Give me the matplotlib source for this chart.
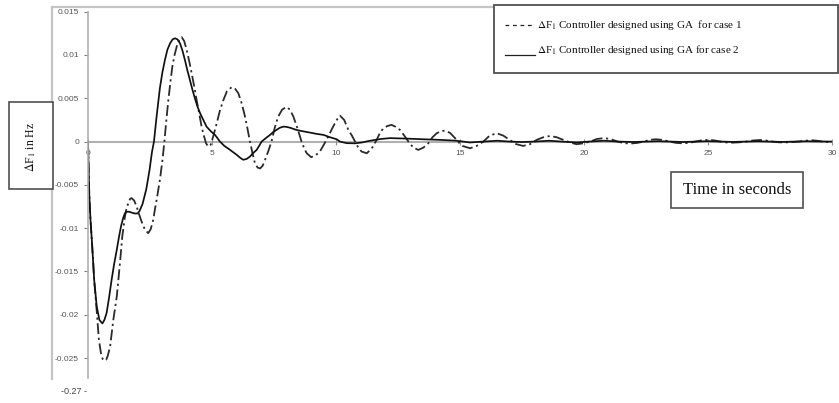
import matplotlib
matplotlib.use("Agg")
import matplotlib.pyplot as plt
from matplotlib.patches import Rectangle
from matplotlib.lines import Line2D

plt.rcParams['mathtext.fontset'] = 'stix'

# Case 1: controller designed using GA (dash-dot curve)
t_case1 = [0.0, 0.05, 0.1, 0.17, 0.25, 0.35, 0.44, 0.52, 0.59, 0.66, 0.73, 0.79, 0.89, 1.02,
           1.16, 1.29, 1.38, 1.49, 1.56, 1.63, 1.7, 1.76, 1.86, 1.96, 2.06, 2.16, 2.3, 2.43,
           2.53, 2.63, 2.7, 2.77, 2.84, 2.9, 3.0, 3.08, 3.16, 3.24, 3.32, 3.4, 3.49, 3.58,
           3.68, 3.78, 3.88, 3.98, 4.08, 4.18, 4.28, 4.38, 4.48, 4.58, 4.68, 4.76, 4.85, 4.94,
           5.05, 5.19, 5.32, 5.46, 5.6, 5.79, 5.93, 6.06, 6.2, 6.33, 6.43, 6.53, 6.63, 6.73,
           6.84, 6.94, 7.04, 7.14, 7.27, 7.4, 7.53, 7.67, 7.83, 8.0, 8.14, 8.28, 8.45, 8.61,
           8.72, 8.82, 9.0, 9.17, 9.35, 9.52, 9.69, 9.86, 10.03, 10.16, 10.33, 10.5, 10.64,
           10.77, 10.9, 11.03, 11.24, 11.44, 11.64, 11.77, 11.9, 12.07, 12.24, 12.41, 12.58,
           12.75, 12.92, 13.12, 13.32, 13.52, 13.72, 13.89, 14.06, 14.23, 14.4, 14.6, 14.8,
           14.95, 15.1, 15.4, 15.67, 15.94, 16.2, 16.48, 16.74, 17.0, 17.27, 17.55, 17.82,
           18.09, 18.36, 18.63, 18.9, 19.17, 19.43, 19.7, 19.97, 20.25, 20.52, 20.8, 21.07,
           21.35, 21.62, 21.9, 22.15, 22.4, 22.65, 22.9, 23.17, 23.45, 23.72, 24.0, 24.25,
           24.5, 24.75, 25.0, 25.25, 25.5, 25.75, 26.0, 26.27, 26.55, 26.82, 27.1, 27.35,
           27.6, 27.85, 28.1, 28.37, 28.65, 28.92, 29.2, 29.4, 29.6, 29.8, 30.0]
v_case1 = [0.0, -0.006, -0.009, -0.0121, -0.016, -0.0195, -0.0229, -0.0244, -0.0251, -0.0253,
           -0.0252, -0.0248, -0.0237, -0.0206, -0.0179, -0.0140, -0.0110, -0.00865, -0.0076,
           -0.0071, -0.0066, -0.00653, -0.0068, -0.0075, -0.0084, -0.00923, -0.0102,
           -0.01057, -0.0101, -0.00903, -0.0078, -0.0067, -0.0055, -0.0044, -0.0022, 0.0,
           0.0025, 0.0048, 0.0068, 0.00865, 0.0100, 0.0110, 0.0118, 0.01205, 0.0116,
           0.01058, 0.0093, 0.0079, 0.0064, 0.0048, 0.0033, 0.00173, 0.0006, -0.0002,
           -0.00058, -0.0004, 0.0006, 0.0021, 0.0036, 0.0048, 0.0058, 0.00628, 0.0061,
           0.0056, 0.0044, 0.0029, 0.0015, 0.0, -0.0013, -0.0025, -0.0030, -0.0031, -0.0028,
           -0.0021, -0.0011, 0.0, 0.0016, 0.0029, 0.0037, 0.0040, 0.0037, 0.0029, 0.0015,
           0.0, -0.0008, -0.00135, -0.0018, -0.0016, -0.00115, -0.0003, 0.0006, 0.0016,
           0.0025, 0.0030, 0.0025, 0.00135, 0.0007, 0.0, -0.0007, -0.00115, -0.00135,
           -0.0008, 0.0002, 0.0010, 0.0015, 0.0018, 0.00193, 0.0017, 0.00135, 0.0007, 0.0,
           -0.0007, -0.00096, -0.0007, -0.0002, 0.0005, 0.00096, 0.0012, 0.00127, 0.0010,
           0.0004, -0.0001, -0.0005, -0.00077, -0.0005, 0.0, 0.0007, 0.00096, 0.0007, 0.0002,
           -0.0003, -0.0005, -0.0003, 0.0002, 0.0005, 0.00065, 0.0005, 0.0002, -0.0001,
           -0.0003, -0.0002, 0.0, 0.0003, 0.0004, 0.0003, 0.0, -0.00018, -0.00022, -0.00015,
           0.0, 0.0002, 0.00027, 0.0002, 0.0, -0.00015, -0.0002, -0.00014, 0.0, 0.00015,
           0.0002, 0.00014, 0.0, -0.0001, -0.00012, -0.00008, 0.0, 0.00013, 0.00018, 0.00012,
           0.0, -0.00008, -0.0001, -0.00006, 0.0, 0.0001, 0.00015, 0.0001, 0.0, -0.00005, 0.0]

# Case 2: controller designed using GA (solid curve)
t_case2 = [0.0, 0.05, 0.1, 0.17, 0.25, 0.35, 0.46, 0.58, 0.66, 0.75, 0.85, 0.95, 1.05, 1.16,
           1.25, 1.33, 1.42, 1.49, 1.56, 1.66, 1.76, 1.88, 2.0, 2.08, 2.2, 2.35, 2.48, 2.58,
           2.66, 2.77, 2.9, 3.0, 3.1, 3.2, 3.31, 3.41, 3.51, 3.61, 3.71, 3.81, 3.91, 4.01,
           4.11, 4.21, 4.31, 4.42, 4.52, 4.65, 4.78, 4.95, 5.12, 5.22, 5.32, 5.5, 5.73, 6.0,
           6.15, 6.26, 6.4, 6.53, 6.67, 6.8, 6.9, 7.0, 7.17, 7.34, 7.47, 7.6, 7.74, 7.88, 8.0,
           8.15, 8.4, 8.65, 8.95, 9.2, 9.5, 9.76, 10.03, 10.16, 10.43, 10.77, 11.05, 11.37,
           11.8, 12.18, 12.8, 13.5, 14.2, 14.86, 15.4, 15.95, 16.5, 17.0, 17.5, 18.0, 18.6,
           19.1, 19.7, 20.2, 20.8, 21.4, 22.0, 23.0, 24.0, 25.0, 26.0, 27.0, 28.0, 29.0, 30.0]
v_case2 = [0.0, -0.006, -0.009, -0.0121, -0.016, -0.019, -0.0206, -0.0210, -0.0206, -0.0198,
           -0.0180, -0.0160, -0.0142, -0.0125, -0.0110, -0.0098, -0.0088, -0.00827, -0.0081,
           -0.0081, -0.0082, -0.0083, -0.0083, -0.0080, -0.0072, -0.0055, -0.0033, -0.0012,
           0.0, 0.0030, 0.0062, 0.0080, 0.0094, 0.0106, 0.01135, 0.0118, 0.01193, 0.0118,
           0.01135, 0.0105, 0.0094, 0.0082, 0.0071, 0.0060, 0.0050, 0.0040, 0.00328, 0.0025,
           0.00173, 0.0012, 0.00077, 0.0004, 0.0, -0.0005, -0.00096, -0.00154, -0.0019,
           -0.0021, -0.0020, -0.00173, -0.0013, -0.00096, -0.0005, 0.0, 0.0004, 0.00077,
           0.0011, 0.00135, 0.0016, 0.00173, 0.0017, 0.0016, 0.00135, 0.0012, 0.00104, 0.0009,
           0.00077, 0.0005, 0.00027, 0.0, -0.00018, -0.0002, -0.0001, 0.0001, 0.0003, 0.0004,
           0.00035, 0.00027, 0.0002, 0.0001, -0.0001, 0.0, 0.0001, 0.0, -0.00005, 0.0, 0.0001,
           0.0, -0.0001, 0.0, 0.0001, 0.0, -0.00005, 0.00005, -0.00005, 0.00005, -0.00004,
           0.00004, -0.00004, 0.00004, 0.0]

y_ticks = [0.015, 0.01, 0.005, 0, -0.005, -0.01, -0.015, -0.02, -0.025]
x_ticks = [0, 5, 10, 15, 20, 25, 30]

W, H = 839, 403
fig = plt.figure(figsize=(W / 100, H / 100), dpi=100)

# overlay in pixel coordinates for the frame and text boxes
ov = fig.add_axes([0, 0, 1, 1], zorder=0)
ov.set_xlim(0, W)
ov.set_ylim(H, 0)
ov.axis('off')

frame_col = '#c4c4c4'
ov.add_line(Line2D([52, 52], [7, 379], color=frame_col, lw=1.6))
ov.add_line(Line2D([52, W], [7, 7], color=frame_col, lw=1.6))

ax = fig.add_axes([88 / W, 1 - 378 / H, (832 - 88) / W, (378 - 11.7) / H], zorder=1)
ax.patch.set_alpha(0)
ax.plot(t_case1, v_case1, color='#2b2b2b', lw=1.3, linestyle=(0, (6, 2, 1.2, 2)))
ax.plot(t_case2, v_case2, color='#111111', lw=1.25)
ax.set_xlim(0, 30)
ax.set_ylim(-0.0273, 0.015)

axis_col = '#b0b0b0'
for s in ['top', 'right']:
    ax.spines[s].set_visible(False)
ax.spines['left'].set_color(axis_col)
ax.spines['left'].set_linewidth(1.2)
ax.spines['bottom'].set_position(('data', 0))
ax.spines['bottom'].set_color(axis_col)
ax.spines['bottom'].set_linewidth(1.5)
ax.spines['bottom'].set_zorder(0)

ax.set_yticks(y_ticks)
ax.set_yticklabels([f"{v:g}" for v in y_ticks])
ax.set_xticks(x_ticks)
ax.set_xticklabels([str(v) for v in x_ticks])
ax.tick_params(axis='y', direction='out', length=3, width=0.8, color='#808080',
               labelsize=6, labelcolor='#555555', pad=3.5)
ax.tick_params(axis='x', direction='inout', length=4, width=0.8, color='#909090',
               labelsize=6, labelcolor='#555555', pad=4)
for lab in ax.get_xticklabels() + ax.get_yticklabels():
    lab.set_family('Liberation Sans')

# stray bottom label
ov.text(87, 392, "-0.27 -", ha='right', va='center', fontsize=6.5,
        color='#444444', family='Liberation Sans')

top = fig.add_axes([0, 0, 1, 1], zorder=3)
top.set_xlim(0, W)
top.set_ylim(H, 0)
top.axis('off')

serif = 'Liberation Serif'
box_col = '#505050'

# legend text box
top.add_patch(Rectangle((494, 5), 344, 68, facecolor='white', edgecolor=box_col, lw=1.3))
top.add_line(Line2D([505, 533], [25, 25], color='#222222', lw=0.9, linestyle=(0, (3, 3))))
top.text(537, 25, r"$\Delta$F$_1$ Controller designed using GA  for case 1",
         ha='left', va='center', fontsize=8, family=serif, color='#111111')
top.add_line(Line2D([505, 535], [55, 55], color='#222222', lw=0.9))
top.text(537, 50, r"$\Delta$F$_1$ Controller designed using GA for case 2",
         ha='left', va='center', fontsize=8, family=serif, color='#111111')

# y label box
top.add_patch(Rectangle((9, 102), 44, 87, facecolor='white', edgecolor=box_col, lw=1.2))
top.text(31, 147, r"$\Delta$F$_1$ in Hz", rotation=90, ha='center', va='center',
         fontsize=8.5, family=serif, color='#111111')

# x label box
top.add_patch(Rectangle((671, 172), 132, 36, facecolor='white', edgecolor=box_col, lw=1.2))
top.text(737, 190, "Time in seconds", ha='center', va='center',
         fontsize=12, family=serif, color='#111111')

fig.savefig('out.png', dpi=100, facecolor='white')
